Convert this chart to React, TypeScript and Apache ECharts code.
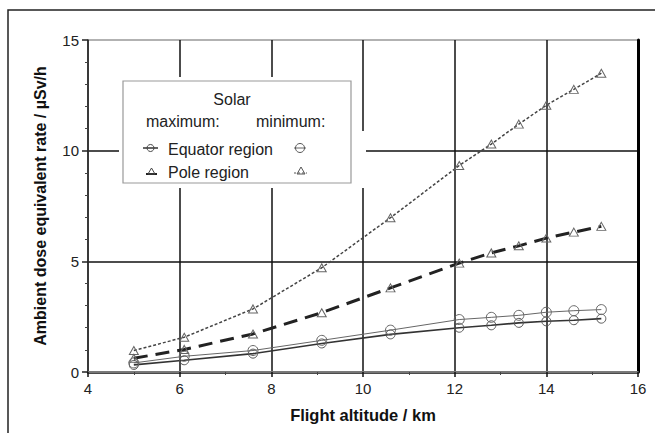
import React, { useEffect, useRef } from "react";
import * as echarts from "echarts";

const altitudes = [5.0, 6.1, 7.6, 9.1, 10.6, 12.1, 12.8, 13.4, 14.0, 14.6, 15.2];
const equatorMax = [0.32, 0.53, 0.83, 1.29, 1.7, 2.0, 2.11, 2.22, 2.29, 2.34, 2.41];
const equatorMin = [0.41, 0.71, 0.97, 1.43, 1.89, 2.37, 2.47, 2.56, 2.7, 2.77, 2.82];
const poleMax = [0.62, 1.02, 1.72, 2.68, 3.8, 4.92, 5.38, 5.7, 6.05, 6.32, 6.58];
const poleMin = [0.97, 1.57, 2.85, 4.71, 6.97, 9.33, 10.3, 11.2, 12.05, 12.77, 13.5];

const legendTitle = "Solar";
const legendMax = "maximum:";
const legendMin = "minimum:";
const legendEquator = "Equator region";
const legendPole = "Pole region";
const xTitle = "Flight altitude / km";
const yTitle = "Ambient dose equivalent rate / µSv/h";

const FONT = "'Liberation Sans', Arial, Helvetica, sans-serif";

function pairs(ys: number[]) {
  return altitudes.map((x, i) => [x, ys[i]]);
}

export default function App() {
  const ref = useRef<HTMLDivElement>(null);
  useEffect(() => {
    document.body.style.margin = "0";
    if (!ref.current) return;
    const chart = echarts.init(ref.current, undefined, { renderer: "svg" });
    const hollow = (border: string, bw: number) => ({
      color: "rgba(0,0,0,0)",
      borderColor: border,
      borderWidth: bw,
    });
    chart.setOption({
      animation: false,
      backgroundColor: "#ffffff",
      textStyle: { fontFamily: FONT },
      grid: { left: 88, right: 17, top: 40, bottom: 61 },
      xAxis: [
        {
          type: "value",
          min: 4,
          max: 16,
          interval: 2,
          position: "bottom",
          axisLine: { lineStyle: { color: "#111", width: 2.5 } },
          axisTick: { show: true, length: 5, lineStyle: { color: "#111", width: 1.5 } },
          minorTick: { show: true, splitNumber: 2, length: 3, lineStyle: { color: "#444", width: 1 } },
          axisLabel: { fontSize: 15, color: "#222", margin: 9, fontFamily: FONT },
          splitLine: { show: true, lineStyle: { color: "#111", width: 1.5 } },
          name: xTitle,
          nameLocation: "middle",
          nameGap: 34,
          nameTextStyle: { fontWeight: "bold", fontSize: 16.5, color: "#111", fontFamily: FONT },
        },
        {
          type: "value",
          min: 4,
          max: 16,
          interval: 2,
          position: "top",
          axisLine: { show: true, lineStyle: { color: "#999", width: 1.5 } },
          axisTick: { show: false },
          axisLabel: { show: false },
          splitLine: { show: false },
        },
      ],
      yAxis: [
        {
          type: "value",
          min: 0,
          max: 15,
          interval: 5,
          position: "left",
          axisLine: { show: true, lineStyle: { color: "#333", width: 1.5 } },
          axisTick: { show: true, length: 6, lineStyle: { color: "#222", width: 1.5 } },
          minorTick: { show: true, splitNumber: 5, length: 3, lineStyle: { color: "#444", width: 1 } },
          axisLabel: { fontSize: 15, color: "#222", margin: 9, fontFamily: FONT },
          splitLine: { show: true, lineStyle: { color: ["#111", "#111", "#111", "#999"], width: 1.5 } },
          name: yTitle,
          nameLocation: "middle",
          nameGap: 40,
          nameRotate: 90,
          nameTextStyle: {
            fontWeight: "bold",
            fontSize: 16,
            color: "#111",
            fontFamily: FONT,
          },
        },
        {
          type: "value",
          min: 0,
          max: 15,
          interval: 5,
          position: "right",
          axisLine: { show: true, lineStyle: { color: "#000", width: 3 } },
          axisTick: { show: false },
          axisLabel: { show: false },
          splitLine: { show: false },
        },
      ],
      series: [
        {
          name: "Equator max",
          type: "line",
          data: pairs(equatorMax),
          symbol: "circle",
          symbolSize: 9,
          lineStyle: { color: "#333", width: 1.6 },
          itemStyle: hollow("#555", 1),
          z: 3,
        },
        {
          name: "Equator min",
          type: "line",
          data: pairs(equatorMin),
          symbol: "circle",
          symbolSize: 10,
          lineStyle: { color: "#666", width: 1 },
          itemStyle: hollow("#666", 1),
          z: 3,
        },
        {
          name: "Pole max",
          type: "line",
          data: pairs(poleMax),
          symbol: "triangle",
          symbolSize: [9, 8],
          lineStyle: { color: "#222", width: 3, type: [14, 8] },
          itemStyle: hollow("#666", 1),
          z: 3,
        },
        {
          name: "Pole min",
          type: "line",
          data: pairs(poleMin),
          symbol: "triangle",
          symbolSize: [9, 8],
          lineStyle: { color: "#444", width: 1.5, type: [3, 2] },
          itemStyle: hollow("#666", 1),
          z: 3,
        },
      ],
      graphic: [
        {
          type: "rect",
          z: 20,
          silent: true,
          shape: { x: 8, y: 10, width: 720, height: 520 },
          style: { fill: "none", stroke: "#222", lineWidth: 1.5 },
        },
        {
          type: "rect",
          z: 20,
          shape: { x: 119, y: 77, width: 236, height: 111 },
          style: { fill: "#fff" },
        },
        {
          type: "rect",
          z: 20,
          shape: { x: 355, y: 131, width: 11, height: 57 },
          style: { fill: "#fff" },
        },
        {
          type: "rect",
          z: 21,
          shape: { x: 123, y: 81, width: 228, height: 102 },
          style: { fill: "#fff", stroke: "#999", lineWidth: 1.2 },
        },
        {
          type: "text",
          z: 22,
          x: 232,
          y: 99,
          style: { text: legendTitle, font: `16px ${FONT}`, fill: "#222", align: "center", verticalAlign: "middle" },
        },
        {
          type: "text",
          z: 22,
          x: 146,
          y: 121,
          style: { text: legendMax, font: `16px ${FONT}`, fill: "#222", align: "left", verticalAlign: "middle" },
        },
        {
          type: "text",
          z: 22,
          x: 256,
          y: 121,
          style: { text: legendMin, font: `16px ${FONT}`, fill: "#222", align: "left", verticalAlign: "middle" },
        },
        {
          type: "text",
          z: 22,
          x: 168,
          y: 149,
          style: { text: legendEquator, font: `16px ${FONT}`, fill: "#222", align: "left", verticalAlign: "middle" },
        },
        {
          type: "text",
          z: 22,
          x: 168,
          y: 172,
          style: { text: legendPole, font: `16px ${FONT}`, fill: "#222", align: "left", verticalAlign: "middle" },
        },
        {
          type: "line",
          z: 22,
          shape: { x1: 143, y1: 148, x2: 158, y2: 148 },
          style: { stroke: "#333", lineWidth: 1.5 },
        },
        {
          type: "circle",
          z: 22,
          shape: { cx: 150.5, cy: 148, r: 3.5 },
          style: { fill: "none", stroke: "#444", lineWidth: 1 },
        },
        {
          type: "line",
          z: 22,
          shape: { x1: 146, y1: 174, x2: 157, y2: 174 },
          style: { stroke: "#222", lineWidth: 2 },
        },
        {
          type: "polygon",
          z: 22,
          shape: { points: [[151.5, 168], [148, 174], [155, 174]] },
          style: { fill: "none", stroke: "#444", lineWidth: 1 },
        },
        {
          type: "line",
          z: 22,
          shape: { x1: 294, y1: 148, x2: 306, y2: 148 },
          style: { stroke: "#666", lineWidth: 1 },
        },
        {
          type: "circle",
          z: 22,
          shape: { cx: 300, cy: 148, r: 4.5 },
          style: { fill: "none", stroke: "#555", lineWidth: 1 },
        },
        {
          type: "line",
          z: 22,
          shape: { x1: 294, y1: 173, x2: 307, y2: 173 },
          style: { stroke: "#555", lineWidth: 1.2, lineDash: [2, 2] },
        },
        {
          type: "polygon",
          z: 22,
          shape: { points: [[301, 167], [297, 174], [305, 174]] },
          style: { fill: "none", stroke: "#555", lineWidth: 1 },
        },
      ],
    });
    return () => chart.dispose();
  }, []);
  return <div ref={ref} style={{ width: 655, height: 433 }} />;
}
